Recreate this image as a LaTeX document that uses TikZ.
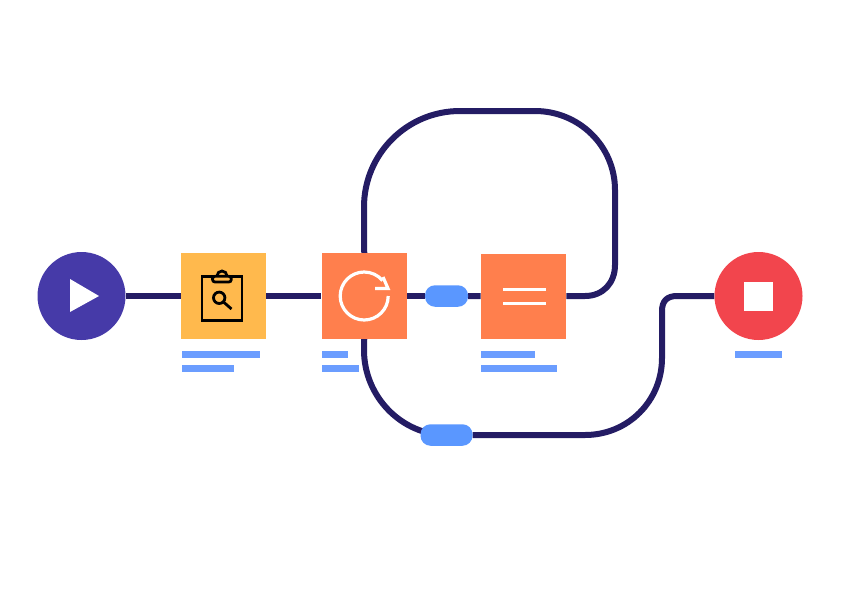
\documentclass[tikz,border=0pt]{standalone}
\usepackage{xcolor}
\usepackage{tikz}
\usetikzlibrary{backgrounds, positioning}

\definecolor{wire}{HTML}{241C64}
\definecolor{startcol}{HTML}{463AA8}
\definecolor{stopcol}{HTML}{F2454D}
\definecolor{checkcol}{HTML}{FFB94D}
\definecolor{stepcol}{HTML}{FF7F4D}
\definecolor{pillcol}{HTML}{5A97FF}
\definecolor{barcol}{HTML}{6B9DFF}

\begin{document}
\begin{tikzpicture}[x=1pt, y=-1pt]
    \tikzstyle{terminal} = [circle, draw=none, inner sep=0pt, minimum size=88pt]
    \tikzstyle{task} = [rectangle, draw=none, inner sep=0pt, minimum size=85.5pt]
    \tikzstyle{pill} = [rectangle, rounded corners=10pt, draw=none, fill=pillcol, inner sep=0pt]
    \tikzstyle{bar} = [rectangle, draw=none, fill=barcol, inner sep=0pt, minimum height=7.5pt, anchor=west]
    \tikzstyle{line} = [draw=wire, line width=6pt]
    \tikzstyle{glyph} = [draw=white, line width=3.2pt]
    \tikzstyle{icon} = [draw=black, line width=2.8pt]

    \useasboundingbox (0,0) rectangle (850,600);

    \node [terminal, fill=startcol] (start) at (81.5,296) {};
    \node [task, fill=checkcol] (check) at (223.5,296) {};
    \node [task, fill=stepcol] (retry) at (364.25,296) {};
    \node [pill, minimum width=43pt, minimum height=21.5pt] (pillA) at (446.5,296) {};
    \node [task, fill=stepcol] (merge) at (523.5,296.5) {};
    \node [pill, minimum width=52pt, minimum height=21.5pt] (pillB) at (446.5,435) {};
    \node [terminal, fill=stopcol] (stop) at (758.5,296) {};

    % connectors go under the nodes
    \begin{scope}[on background layer]
        \path [line] (start) -- (check);
        \path [line] (check) -- (retry);
        \path [line] (retry) -- (pillA);
        \path [line] (pillA) -- (merge);
        \path [line] (merge.east |- retry) -- (585,296)
            .. controls (603,296) and (615,283) .. (615,265) -- (615,190)
            .. controls (615,146) and (579,111) .. (535,111) -- (460,111)
            .. controls (407,111) and (364,154) .. (364,207) -- (retry.north);
        \path [line] (retry.south) -- (364,350)
            .. controls (364,397) and (402,435) .. (pillB.center);
        \path [line] (pillB) -- (585,435)
            .. controls (628,435) and (662,401) .. (662,358) -- (662,311)
            .. controls (662,301) and (667,296) .. (677,296) -- (stop);
    \end{scope}

    % start and stop glyphs
    \fill [white] (70,279) -- (99,296) -- (70,312) -- cycle;
    \node [rectangle, fill=white, inner sep=0pt, minimum size=29pt] (stopmark) at (stop) {};

    % clipboard
    \draw [icon] (202,276.3) rectangle (242,320.7);
    \draw [icon] (217,276) arc (180:360:5);
    \draw [icon, fill=checkcol, rounded corners=2.5pt] (212.5,276.3) rectangle (231.3,282);
    \draw [icon] (219.2,297.8) circle (5.7);
    \draw [icon] (223.5,302) -- (231.5,309);

    % retry arrow
    \draw [glyph] (388.2,296) arc (0:320:24);
    \draw [glyph] (375,288.5) -- (388,288.5) -- (383,277);

    % equals sign
    \draw [glyph] (503,289.7) -- (546,289.7);
    \draw [glyph] (503,303.3) -- (546,303.3);

    % text placeholders
    \node [bar, minimum width=78pt] (barA) at (182,354.7) {};
    \node [bar, minimum width=51.5pt] (barB) at (182,368.7) {};
    \node [bar, minimum width=26pt] (barC) at (322,354.7) {};
    \node [bar, minimum width=37pt] (barD) at (322,368.7) {};
    \node [bar, minimum width=53.5pt] (barE) at (481,354.7) {};
    \node [bar, minimum width=76pt] (barF) at (481,368.7) {};
    \node [bar, minimum width=47pt] (barG) at (735,354.7) {};
\end{tikzpicture}
\end{document}
